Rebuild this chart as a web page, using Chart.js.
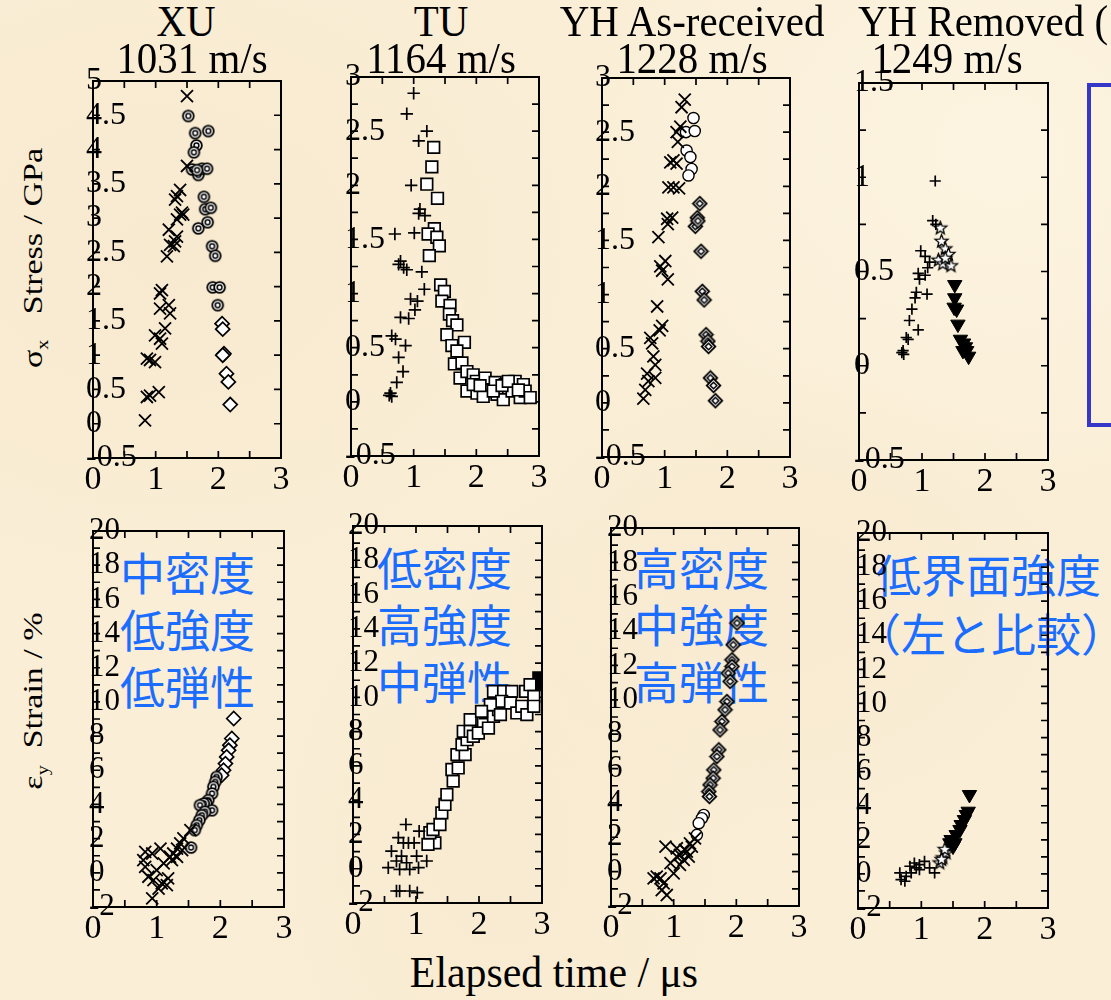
<!DOCTYPE html>
<html>
<head>
<meta charset="utf-8">
<script src="https://cdn.jsdelivr.net/npm/chart.js@4.4.1/dist/chart.umd.min.js"></script>
<style>
  html, body { margin: 0; padding: 0; }
  body {
    width: 1111px; height: 1000px; overflow: hidden; position: relative;
    background-color: #faeed6;
    background-image:
      radial-gradient(ellipse at 15% 25%, rgba(240, 224, 192, 0.30), transparent 35%),
      radial-gradient(ellipse at 70% 60%, rgba(242, 226, 196, 0.30), transparent 30%),
      radial-gradient(ellipse at 45% 85%, rgba(240, 224, 192, 0.25), transparent 30%),
      radial-gradient(ellipse at 90% 15%, rgba(255, 250, 236, 0.5), transparent 30%);
    font-family: 'Liberation Serif', 'DejaVu Serif', serif;
  }
  .title { position: absolute; font-size: 44px; line-height: 1; white-space: nowrap; color: #000;
           transform: translateX(-50%) scaleX(0.93); }
  .note { position: absolute; font-family: 'Noto Sans CJK JP', sans-serif; font-size: 45px; line-height: 1;
          color: #1a6dff; white-space: nowrap; z-index: 1; }
  .axisTitle { position: absolute; white-space: nowrap; color: #000; font-size: 28px; line-height: 1; }
  canvas { position: absolute; z-index: 2; }
  #legendBox { position: absolute; left: 1087px; top: 83px; width: 80px; height: 336px;
               border: 4px solid #3636c8; z-index: 3; }
</style>
</head>
<body>
<div id="legendBox"></div>
<script>
// ---- data: [elapsed time (us), value] ----
const panelTitles = ['XU', 'TU', 'YH As-received', 'YH Removed ('];
const panelSpeeds = ['1031 m/s', '1164 m/s', '1228 m/s', '1249 m/s'];
const notes = [
  ['中密度', '低強度', '低弾性'],
  ['低密度', '高強度', '中弾性'],
  ['高密度', '中強度', '高弾性'],
  ['低界面強度', '（左と比較）']
];

// stress, GPa
const xuStressCross = [[1.50,4.78],[1.50,3.76],[1.39,3.41],[1.34,3.32],[1.31,3.27],[1.39,3.05],[1.44,3.05],[1.42,3.08],[1.34,2.98],[1.21,2.83],[1.34,2.73],[1.31,2.66],[1.23,2.61],[1.29,2.59],[1.18,2.44],[1.10,1.95],[1.07,1.90],[1.21,1.73],[1.07,1.68],[1.23,1.61],[1.15,1.39],[0.99,1.29],[1.07,1.24],[1.10,1.17],[0.86,0.95],[0.91,0.93],[0.99,0.90],[1.05,0.46],[0.91,0.41],[0.86,0.39],[0.83,0.05]];
const xuStressRing = [[1.52,4.49],[1.63,4.24],[1.84,4.27],[1.65,4.06],[1.61,3.96],[1.58,3.71],[1.68,3.63],[1.74,3.72],[1.82,3.72],[1.66,3.70],[1.77,3.31],[1.79,3.13],[1.88,3.15],[1.68,2.85],[1.83,2.94],[1.90,2.59],[1.95,2.45],[1.91,1.99],[2.02,1.99],[1.99,1.73]];
const xuStressDiamond = [[2.06,1.46],[2.07,1.38],[2.09,1.02],[2.07,1.00],[2.13,0.73],[2.16,0.61],[2.19,0.28]];

const tuStressPlus = [[1.00,2.85],[0.89,2.66],[1.21,2.50],[1.08,2.41],[0.96,2.00],[1.10,1.78],[1.18,1.72],[1.08,1.74],[0.70,1.55],[1.01,1.56],[0.79,1.30],[0.76,1.27],[0.89,1.22],[1.13,1.20],[0.84,1.24],[1.17,1.04],[0.95,0.95],[1.06,0.93],[1.02,0.85],[0.79,0.78],[0.92,0.77],[0.65,0.61],[0.71,0.58],[0.87,0.52],[0.76,0.41],[0.83,0.28],[0.73,0.18],[0.63,0.08],[0.65,0.05],[0.61,0.06]];
const tuStressSquare = [[1.32,2.35],[1.29,2.17],[1.21,2.01],[1.38,1.88],[1.33,1.60],[1.23,1.55],[1.37,1.52],[1.41,1.44],[1.25,1.35],[1.43,1.08],[1.49,1.02],[1.45,0.93],[1.58,0.89],[1.57,0.81],[1.62,0.75],[1.69,0.71],[1.53,0.62],[1.61,0.52],[1.81,0.55],[1.69,0.47],[1.65,0.35],[1.77,0.36],[1.74,0.22],[1.85,0.28],[1.95,0.25],[2.00,0.19],[1.85,0.10],[2.01,0.08],[2.14,0.22],[2.17,0.11],[2.30,0.18],[2.33,0.07],[2.43,0.02],[2.46,0.16],[2.62,0.19],[2.57,0.10],[2.70,0.04],[2.75,0.16],[2.78,0.10],[2.86,0.04],[2.11,0.05],[2.27,0.10],[1.95,0.16],[2.06,0.15],[2.41,0.15],[2.51,0.19],[2.67,0.11]];

const yhaStressCross = [[1.32,2.80],[1.27,2.73],[1.25,2.55],[1.19,2.50],[1.21,2.41],[1.14,2.24],[1.09,2.22],[1.19,2.21],[1.06,1.99],[1.14,1.99],[1.23,1.98],[1.12,1.71],[1.04,1.70],[1.05,1.65],[0.90,1.53],[1.01,1.31],[0.93,1.26],[0.96,1.22],[1.05,1.14],[0.88,0.89],[0.96,0.71],[0.92,0.67],[0.77,0.60],[0.80,0.55],[0.82,0.43],[0.85,0.35],[0.72,0.27],[0.85,0.23],[0.74,0.20],[0.69,0.12],[0.66,0.04]];
const yhaStressCircle = [[1.46,2.63],[1.34,2.50],[1.48,2.51],[1.35,2.33],[1.41,2.27],[1.43,2.16],[1.38,2.10]];
const yhaStressDiamond2 = [[1.56,1.84],[1.52,1.71],[1.49,1.63],[1.53,1.68],[1.58,1.40],[1.60,1.03],[1.63,0.95],[1.66,0.63],[1.69,0.57],[1.70,0.52],[1.73,0.23],[1.78,0.16],[1.81,0.02]];

const yhrStressPlus = [[1.21,0.98],[1.17,0.77],[1.22,0.75],[0.98,0.61],[1.05,0.58],[1.12,0.55],[1.09,0.52],[0.94,0.49],[0.96,0.46],[1.05,0.48],[0.91,0.39],[1.08,0.38],[0.89,0.36],[0.84,0.30],[0.80,0.24],[0.94,0.19],[0.75,0.15],[0.78,0.14],[0.68,0.07],[0.71,0.06],[0.70,0.08]];
const yhrStressStar = [[1.29,0.73],[1.31,0.66],[1.37,0.62],[1.42,0.59],[1.26,0.56],[1.33,0.54],[1.46,0.53],[1.37,0.57]];
const yhrStressTri = [[1.52,0.43],[1.52,0.36],[1.51,0.31],[1.55,0.30],[1.57,0.22],[1.61,0.14],[1.66,0.12],[1.69,0.10],[1.71,0.08],[1.74,0.05],[1.65,0.08]];

// strain, %
const xuStrainCross = [[1.53,2.50],[1.42,2.01],[1.37,1.72],[1.32,1.42],[1.26,1.13],[1.21,0.94],[1.06,1.42],[0.93,1.13],[0.79,0.74],[0.82,0.35],[1.11,0.55],[1.00,0.16],[0.87,-0.23],[0.95,-0.43],[1.08,-0.62],[1.16,-0.72],[1.03,-0.92],[1.18,-0.33],[0.93,-1.50],[0.82,1.23],[1.32,0.94],[1.40,1.33],[1.24,0.74]];
const xuStrainRing = [[1.94,5.61],[1.92,5.32],[1.89,5.03],[1.87,4.64],[1.81,4.25],[1.78,4.05],[1.74,4.05],[1.68,3.96],[1.87,3.66],[1.76,3.57],[1.71,3.37],[1.67,3.08],[1.63,2.79],[1.60,2.50],[1.54,1.48]];
const xuStrainDiamond = [[2.21,9.03],[2.18,7.86],[2.15,7.47],[2.13,7.17],[2.10,6.78],[2.08,6.39],[2.05,6.00],[2.02,5.71]];

const tuStrainPlus = [[0.84,2.58],[1.05,2.19],[0.72,1.81],[0.88,1.51],[0.97,1.51],[0.80,1.51],[0.61,1.03],[0.77,0.74],[1.01,0.74],[1.17,0.45],[0.69,0.45],[0.56,0.06],[0.74,-0.04],[0.90,-0.04],[1.04,0.06],[0.85,0.35],[0.74,-1.30],[0.90,-1.30],[1.02,-1.40],[0.69,-1.30]];
const tuStrainSquare = [[1.30,1.51],[1.19,1.42],[1.22,2.10],[1.27,2.29],[1.38,2.58],[1.41,3.26],[1.46,3.75],[1.49,4.33],[1.59,5.11],[1.57,5.79],[1.67,5.88],[1.65,6.66],[1.78,6.66],[1.73,7.24],[1.81,7.53],[1.75,8.02],[1.86,8.02],[1.91,7.73],[1.99,7.92],[1.86,8.70],[2.07,8.60],[2.15,8.21],[2.10,9.09],[2.23,8.89],[2.31,9.28],[2.23,10.35],[2.39,10.35],[2.52,10.35],[2.36,9.77],[2.50,9.67],[2.60,9.09],[2.68,9.48],[2.76,8.99],[2.74,10.35],[2.81,10.74],[2.87,10.06],[2.87,9.48],[2.18,9.57],[2.04,9.18],[2.34,8.99]];
const tuStrainSolid = [[2.95,11.13],[3.00,10.74]];

const yhaStrainCross = [[1.34,1.94],[1.26,1.65],[1.18,1.26],[1.05,0.87],[0.95,0.49],[0.87,1.46],[1.05,1.36],[1.10,0.97],[1.21,1.17],[1.29,1.46],[0.73,-0.29],[0.68,-0.39],[0.79,-0.39],[0.84,-0.68],[0.81,-1.07],[0.89,-1.36],[1.00,-0.10],[1.10,0.39],[1.16,0.68],[1.24,0.87]];
const yhaStrainCircle = [[1.48,3.30],[1.45,3.11],[1.40,2.82],[1.37,2.14]];
const yhaStrainDiamond2 = [[2.01,14.47],[1.95,13.20],[1.93,12.33],[1.93,11.94],[1.87,11.55],[1.90,11.07],[1.85,9.90],[1.82,9.42],[1.77,8.74],[1.74,8.25],[1.72,7.09],[1.69,6.70],[1.64,5.92],[1.63,5.44],[1.58,5.05],[1.56,4.66],[1.57,4.37]];

const yhrStrainPlus = [[0.68,-0.33],[0.76,-0.14],[0.84,0.06],[0.92,0.35],[0.97,0.55],[0.82,0.45],[0.89,0.64],[0.97,0.25],[1.05,0.74],[1.13,0.35],[1.21,0.06],[0.74,-0.43],[0.66,0.06]];
const yhrStrainStar = [[1.29,0.64],[1.34,0.94],[1.39,1.23],[1.37,1.43],[1.32,0.84]];
const yhrStrainTri = [[1.50,1.62],[1.47,2.01],[1.55,2.30],[1.61,2.60],[1.63,2.89],[1.68,3.18],[1.71,3.48],[1.74,3.67],[1.76,4.65],[1.53,1.82],[1.45,1.82]];

// ---- layout (plot area corners in page pixels) ----
const boxes = [
  {l: 93, r: 281, t: 81, b: 458},
  {l: 351, r: 539, t: 77, b: 456},
  {l: 602, r: 790, t: 78, b: 457},
  {l: 859, r: 1048, t: 83, b: 460},
  {l: 93, r: 284, t: 531, b: 907},
  {l: 353, r: 542, t: 526, b: 903},
  {l: 611, r: 799, t: 528, b: 906},
  {l: 858, r: 1048, t: 533, b: 908}
];
const PAD = {left: 45, top: 30, right: 35, bottom: 60};
const X_BAND = 50; // height kept for the x tick labels (inside PAD.bottom)

// ---- custom marker images ----
function markerCanvas(size, draw) {
  const c = document.createElement('canvas');
  c.width = size; c.height = size;
  const g = c.getContext('2d');
  g.translate(size / 2, size / 2);
  g.strokeStyle = '#000';
  g.fillStyle = '#fff';
  g.lineWidth = 1.6;
  draw(g);
  return c;
}
const ringMark = markerCanvas(15, g => {
  g.lineWidth = 1.8;
  g.beginPath(); g.arc(0, 0, 5.4, 0, Math.PI * 2); g.fill(); g.stroke();
  g.lineWidth = 1.5;
  g.beginPath(); g.arc(0, 0, 2.4, 0, Math.PI * 2); g.stroke();
});
const diamond2Mark = markerCanvas(17, g => {
  const dia = r => { g.beginPath(); g.moveTo(0, -r); g.lineTo(r, 0); g.lineTo(0, r); g.lineTo(-r, 0); g.closePath(); };
  g.lineWidth = 1.8;
  dia(6.8); g.fill(); g.stroke();
  g.lineWidth = 1.5;
  dia(3.3); g.stroke();
});
const starMark = markerCanvas(17, g => {
  g.lineWidth = 1.3;
  g.beginPath();
  for (let i = 0; i < 10; i++) {
    const r = i % 2 ? 2.9 : 6.8;
    const a = -Math.PI / 2 + i * Math.PI / 5;
    const px = Math.cos(a) * r, py = Math.sin(a) * r;
    if (i) g.lineTo(px, py); else g.moveTo(px, py);
  }
  g.closePath(); g.fill(); g.stroke();
});

const STY = {
  cross: {pointStyle: 'crossRot', pointRadius: 8.5, pointBorderColor: '#000', pointBorderWidth: 1.8},
  plus: {pointStyle: 'cross', pointRadius: 6.2, pointBorderColor: '#000', pointBorderWidth: 1.7},
  plusSmall: {pointStyle: 'cross', pointRadius: 5.6, pointBorderColor: '#000', pointBorderWidth: 1.7},
  ring: {pointStyle: ringMark, pointRadius: 5},
  diamond: {pointStyle: 'rectRot', pointRadius: 7, pointBackgroundColor: '#fff', pointBorderColor: '#000', pointBorderWidth: 1.7},
  square: {pointStyle: 'rect', pointRadius: 8.2, pointBackgroundColor: '#fff', pointBorderColor: '#000', pointBorderWidth: 1.7},
  solid: {pointStyle: 'rect', pointRadius: 8.2, pointBackgroundColor: '#000', pointBorderColor: '#000', pointBorderWidth: 1.7},
  circle: {pointStyle: 'circle', pointRadius: 5.6, pointBackgroundColor: '#fff', pointBorderColor: '#000', pointBorderWidth: 1.4},
  diamond2: {pointStyle: diamond2Mark, pointRadius: 6.5},
  star: {pointStyle: starMark, pointRadius: 6.5},
  tri: {pointStyle: 'triangle', pointRotation: 180, pointRadius: 8.3, pointBackgroundColor: '#000', pointBorderColor: '#000', pointBorderWidth: 1}
};

// frame box + inward minor ticks on all four sides
const framePlugin = {
  id: 'frame',
  beforeDatasetsDraw(chart, args, opts) {
    const {ctx, chartArea: a, scales: {x, y}} = chart;
    const len = 7;
    ctx.save();
    ctx.strokeStyle = '#000';
    ctx.lineWidth = 1.7;
    ctx.beginPath();
    const nx = Math.round((x.max - x.min) / opts.xStep);
    for (let i = 1; i < nx; i++) {
      const px = x.getPixelForValue(x.min + i * opts.xStep);
      ctx.moveTo(px, a.top); ctx.lineTo(px, a.top + len);
      ctx.moveTo(px, a.bottom); ctx.lineTo(px, a.bottom - len);
    }
    const ny = Math.round((y.max - y.min) / opts.yStep);
    for (let i = 1; i < ny; i++) {
      const py = y.getPixelForValue(y.min + i * opts.yStep);
      ctx.moveTo(a.left, py); ctx.lineTo(a.left + len, py);
      ctx.moveTo(a.right, py); ctx.lineTo(a.right - len, py);
    }
    ctx.stroke();
    ctx.lineWidth = 2;
    ctx.strokeRect(a.left, a.top, a.right - a.left, a.bottom - a.top);
    ctx.restore();
  }
};

function zeroPad(s) {
  s.paddingLeft = 0; s.paddingRight = 0; s.paddingTop = 0; s.paddingBottom = 0;
}
const plainNum = v => String(Math.round(v * 100) / 100);

function makePanel(i, series, yMin, yMax, yStep, yMinor, yPad, yFont) {
  const b = boxes[i];
  const canvas = document.createElement('canvas');
  canvas.width = b.r - b.l + PAD.left + PAD.right;
  canvas.height = b.b - b.t + PAD.top + PAD.bottom;
  canvas.style.left = (b.l - PAD.left) + 'px';
  canvas.style.top = (b.t - PAD.top) + 'px';
  document.body.appendChild(canvas);

  new Chart(canvas, {
    type: 'scatter',
    data: {
      datasets: series.map(([pts, sty]) => Object.assign({
        data: pts.map(([x, y]) => ({x, y})),
        showLine: false
      }, sty))
    },
    options: {
      responsive: false,
      animation: false,
      devicePixelRatio: 1,
      layout: {padding: {left: PAD.left, top: PAD.top, right: PAD.right, bottom: PAD.bottom - X_BAND}},
      plugins: {
        legend: {display: false},
        tooltip: {enabled: false},
        frame: {xStep: 0.5, yStep: yMinor}
      },
      scales: {
        x: {
          type: 'linear', position: 'bottom', min: 0, max: 3,
          grid: {display: false, drawTicks: false},
          border: {display: false},
          ticks: {stepSize: 1, autoSkip: false, maxRotation: 0, padding: 2, color: '#000',
                  callback: plainNum,
                  font: {family: 'Liberation Serif', size: 34, lineHeight: 1.2}},
          afterFit(s) { s.height = X_BAND; zeroPad(s); }
        },
        y: {
          type: 'linear', position: 'left', min: yMin, max: yMax,
          grid: {display: false, drawTicks: false},
          border: {display: false},
          ticks: {stepSize: yStep, autoSkip: false, mirror: true, padding: yPad, color: '#000',
                  callback: plainNum,
                  font: {family: 'Liberation Serif', size: yFont}},
          afterFit(s) { s.width = 0; zeroPad(s); }
        }
      }
    },
    plugins: [framePlugin]
  });
}

makePanel(0, [[xuStressCross, STY.cross], [xuStressRing, STY.ring], [xuStressDiamond, STY.diamond]], -0.5, 5, 0.5, 0.5, -7, 32);
makePanel(1, [[tuStressPlus, STY.plus], [tuStressSquare, STY.square]], -0.5, 3, 0.5, 0.25, -6, 32);
makePanel(2, [[yhaStressCross, STY.cross], [yhaStressCircle, STY.circle], [yhaStressDiamond2, STY.diamond2]], -0.5, 3, 0.5, 0.25, -7, 32);
makePanel(3, [[yhrStressPlus, STY.plusSmall], [yhrStressStar, STY.star], [yhrStressTri, STY.tri]], -0.5, 1.5, 0.5, 0.25, -5, 32);
makePanel(4, [[xuStrainCross, STY.cross], [xuStrainRing, STY.ring], [xuStrainDiamond, STY.diamond]], -2, 20, 2, 1, -4, 31);
makePanel(5, [[tuStrainPlus, STY.plus], [tuStrainSquare, STY.square], [tuStrainSolid, STY.solid]], -2, 20, 2, 1, -5, 31);
makePanel(6, [[yhaStrainCross, STY.cross], [yhaStrainCircle, STY.circle], [yhaStrainDiamond2, STY.diamond2]], -2, 20, 2, 1, -4, 31);
makePanel(7, [[yhrStrainPlus, STY.plusSmall], [yhrStrainStar, STY.star], [yhrStrainTri, STY.tri]], -2, 20, 2, 1, -2, 31);

// ---- text ----
function addDiv(cls, html, css) {
  const d = document.createElement('div');
  d.className = cls;
  d.innerHTML = html;
  Object.assign(d.style, css);
  document.body.appendChild(d);
  return d;
}
const titleX = [186, 441, 692];
const speedX = [192, 441, 692, 947];
panelTitles.forEach((t, i) => {
  if (i < 3) addDiv('title', t, {left: titleX[i] + 'px', top: '0px', zIndex: 4});
  else addDiv('title', t, {left: '858px', top: '0px', zIndex: 4, transform: 'scaleX(0.93)', transformOrigin: 'left center'});
});
panelSpeeds.forEach((t, i) => addDiv('title', t, {left: speedX[i] + 'px', top: '37px', zIndex: 4}));

// blue notes (under the markers)
const noteSpots = [
  {x: 120, y: [549, 606, 663]},
  {x: 377, y: [544, 601, 658]},
  {x: 634, y: [544, 601, 658]},
  {x: 876, y: [551, 610]}
];
notes.forEach((lines, i) => lines.forEach((txt, j) => {
  let x = noteSpots[i].x;
  if (i === 3 && j === 1) x -= 20;
  addDiv('note', txt, {left: x + 'px', top: noteSpots[i].y[j] + 'px'});
}));

addDiv('axisTitle', 'σ<sub style="font-size:20px">x</sub>&nbsp;&nbsp;&nbsp;Stress / GPa',
       {left: '35px', top: '258px', fontSize: '34px', transform: 'translate(-50%, -50%) rotate(-90deg) scaleY(0.82)'});
addDiv('axisTitle', 'ε<sub style="font-size:20px">y</sub>&nbsp;&nbsp;Strain / %',
       {left: '35px', top: '701px', fontSize: '34px', transform: 'translate(-50%, -50%) rotate(-90deg) scaleY(0.82)'});
addDiv('axisTitle', 'Elapsed time / μs',
       {left: '554px', top: '951px', fontSize: '44px', transform: 'translateX(-50%) scaleX(0.95)'});
</script>
</body>
</html>
